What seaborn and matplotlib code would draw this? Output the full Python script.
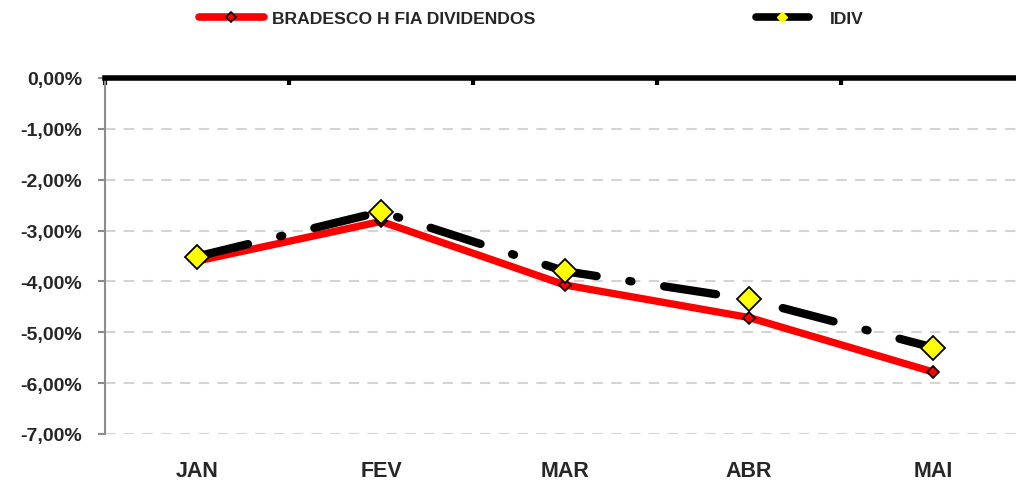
import matplotlib
matplotlib.use("Agg")
import matplotlib.pyplot as plt
from matplotlib.lines import Line2D
from matplotlib.ticker import FixedLocator, FuncFormatter
import seaborn as sns
import pandas as pd

# Monthly returns (%)
months = ["JAN", "FEV", "MAR", "ABR", "MAI"]
bradesco = [-3.60, -2.82, -4.07, -4.71, -5.78]
idiv = [-3.51, -2.63, -3.80, -4.35, -5.30]
series_names = ["BRADESCO H FIA DIVIDENDOS", "IDIV"]
y_ticks = [0, -1, -2, -3, -4, -5, -6, -7]

FONT = "Liberation Sans"

sns.set_theme(style="white")
plt.rcParams["font.family"] = [FONT, "DejaVu Sans"]
plt.rcParams["font.weight"] = "bold"

fig = plt.figure(figsize=(10.16, 4.81), dpi=100)
ax = fig.add_axes([105 / 1016, 1 - 435 / 481, 1 - 105 / 1016, (435 - 79) / 481])

df = pd.DataFrame({"mes": months, "bradesco": bradesco, "idiv": idiv})

sns.lineplot(data=df, x="mes", y="bradesco", ax=ax, color="#ff0000", linewidth=5.3,
             solid_capstyle="round", marker="D", markersize=6.5,
             markerfacecolor="#ff0000", markeredgecolor="black", markeredgewidth=1.2,
             sort=False, zorder=3)
sns.lineplot(data=df, x="mes", y="idiv", ax=ax, color="black", linewidth=6,
             linestyle=(0, (6.3, 3.97, 0.25, 3.97)), dash_capstyle="round",
             marker="D", markersize=12, markerfacecolor="#ffff00",
             markeredgecolor="black", markeredgewidth=1.3, sort=False, zorder=4)

ax.set_xlim(-0.5, -0.5 + (1016 - 105) / 184)
ax.set_ylim(-7, 0)
ax.set_xlabel("")
ax.set_ylabel("")

# gridlines
for v in y_ticks[1:]:
    ax.axhline(v, color="#d4d4d4", linewidth=1.5, linestyle=(0, (5, 4)), zorder=1)

# spines
for s in ["right", "bottom"]:
    ax.spines[s].set_visible(False)
ax.spines["top"].set_color("black")
ax.spines["top"].set_linewidth(4)
ax.spines["left"].set_color("#8c8c8c")
ax.spines["left"].set_linewidth(1.5)

# x axis: labels at the bottom, category separators on the zero line
ax.xaxis.set_major_locator(FixedLocator(range(len(months))))
ax.set_xticklabels(months)
ax.xaxis.set_minor_locator(FixedLocator([i - 0.5 for i in range(len(months) + 1)]))
ax.tick_params(axis="x", which="major", length=0, pad=18.5, labelsize=15.5)
ax.tick_params(axis="x", which="minor", top=True, bottom=False, direction="in",
               length=5, width=3, color="black")
for lbl in ax.get_xticklabels():
    lbl.set_fontweight("bold")

# y axis
ax.yaxis.set_major_locator(FixedLocator(y_ticks))
ax.yaxis.set_major_formatter(FuncFormatter(lambda v, p: f"{v:.2f}%".replace(".", ",")))
ax.tick_params(axis="y", left=True, direction="out", length=5, width=1.5,
               color="#8c8c8c", pad=11.5, labelsize=14)
for lbl in ax.get_yticklabels():
    lbl.set_fontweight("bold")

# legend
h1 = Line2D([], [], color="#ff0000", linewidth=5.5, solid_capstyle="round", marker="D",
            markersize=5.5, markerfacecolor="#ff0000", markeredgecolor="black",
            markeredgewidth=1.2)
h2 = Line2D([], [], color="black", linewidth=5.5, solid_capstyle="round", marker="D",
            markersize=5.5, markerfacecolor="#ffff00", markeredgecolor="#ffff00",
            markeredgewidth=1)
leg_kw = dict(frameon=False, loc="center left", borderpad=0, borderaxespad=0,
              prop={"family": FONT, "weight": "bold", "size": 12.6})
fig.legend([h1], [series_names[0]], bbox_to_anchor=(198.5 / 1016, 1 - 19 / 481),
           handlelength=3.77, handletextpad=0.45, **leg_kw)
fig.legend([h2], [series_names[1]], bbox_to_anchor=(755.5 / 1016, 1 - 19 / 481),
           handlelength=3.03, handletextpad=1.2, **leg_kw)

fig.savefig("out.png", dpi=100)
